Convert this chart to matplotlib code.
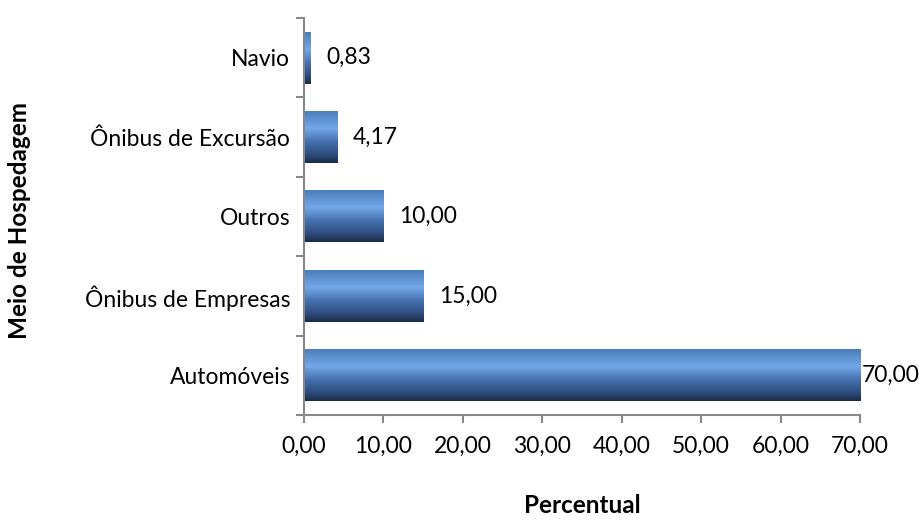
import numpy as np
import matplotlib
matplotlib.use("Agg")
import matplotlib.pyplot as plt
from matplotlib.colors import LinearSegmentedColormap

categories = ["Automóveis", "Ônibus de Empresas", "Outros", "Ônibus de Excursão", "Navio"]
values = [70.00, 15.00, 10.00, 4.17, 0.83]
value_labels = ["70,00", "15,00", "10,00", "4,17", "0,83"]
x_ticks = [0, 10, 20, 30, 40, 50, 60, 70]
x_tick_labels = ["0,00", "10,00", "20,00", "30,00", "40,00", "50,00", "60,00", "70,00"]

plt.rcParams["font.family"] = ["Lato", "DejaVu Sans"]
FS = 16.5

fig = plt.figure(figsize=(9.2, 5.24), dpi=100)
ax = fig.add_axes([0.3304, 0.208, 0.6044, 0.7576])

# vertical gradient from top (light) to bottom (dark navy)
grad_cmap = LinearSegmentedColormap.from_list(
    "bar", [(0.0, "#4b7dba"), (0.33, "#72a8e9"), (0.6, "#446fad"),
            (0.85, "#2c4b7a"), (1.0, "#1b2a45")])
grad = np.linspace(0, 1, 256).reshape(-1, 1)

height = 0.65
ypos = np.arange(len(categories))
bars = ax.barh(ypos, values, height=height, color="none", edgecolor="none")
for b in bars:
    x0, y0 = b.get_x(), b.get_y()
    w, h = b.get_width(), b.get_height()
    ax.imshow(grad, cmap=grad_cmap, aspect="auto",
              extent=(x0, x0 + w, y0, y0 + h), origin="upper", zorder=2)

for i, (v, lab) in enumerate(zip(values, value_labels)):
    off = 0.2 if v >= 70 else 2.0
    ax.text(v + off, i, lab, va="center", ha="left", fontsize=FS, color="black")

ax.set_xlim(0, 70)
ax.set_ylim(-0.5, len(categories) - 0.5)
ax.set_xticks(x_ticks)
ax.set_xticklabels(x_tick_labels, fontsize=FS)
ax.set_yticks(ypos)
ax.set_yticklabels(categories, fontsize=FS)
ax.set_yticks(np.arange(-0.5, len(categories), 1.0), minor=True)
ax.tick_params(axis="y", which="major", length=0, pad=10)
ax.tick_params(axis="y", which="minor", length=6, width=1.5, color="#878787")
ax.tick_params(axis="x", length=6, width=1.5, color="#878787", pad=9)

for s in ("top", "right"):
    ax.spines[s].set_visible(False)
for s in ("left", "bottom"):
    ax.spines[s].set_color("#878787")
    ax.spines[s].set_linewidth(1.5)

fig.text(0.633, 0.035, "Percentual", fontsize=17.5, fontweight="bold",
         ha="center", va="center")
fig.text(0.021, 0.58, "Meio de Hospedagem", rotation=90, fontsize=17.5,
         fontweight="bold", ha="center", va="center")

fig.savefig("out.png", dpi=100)
